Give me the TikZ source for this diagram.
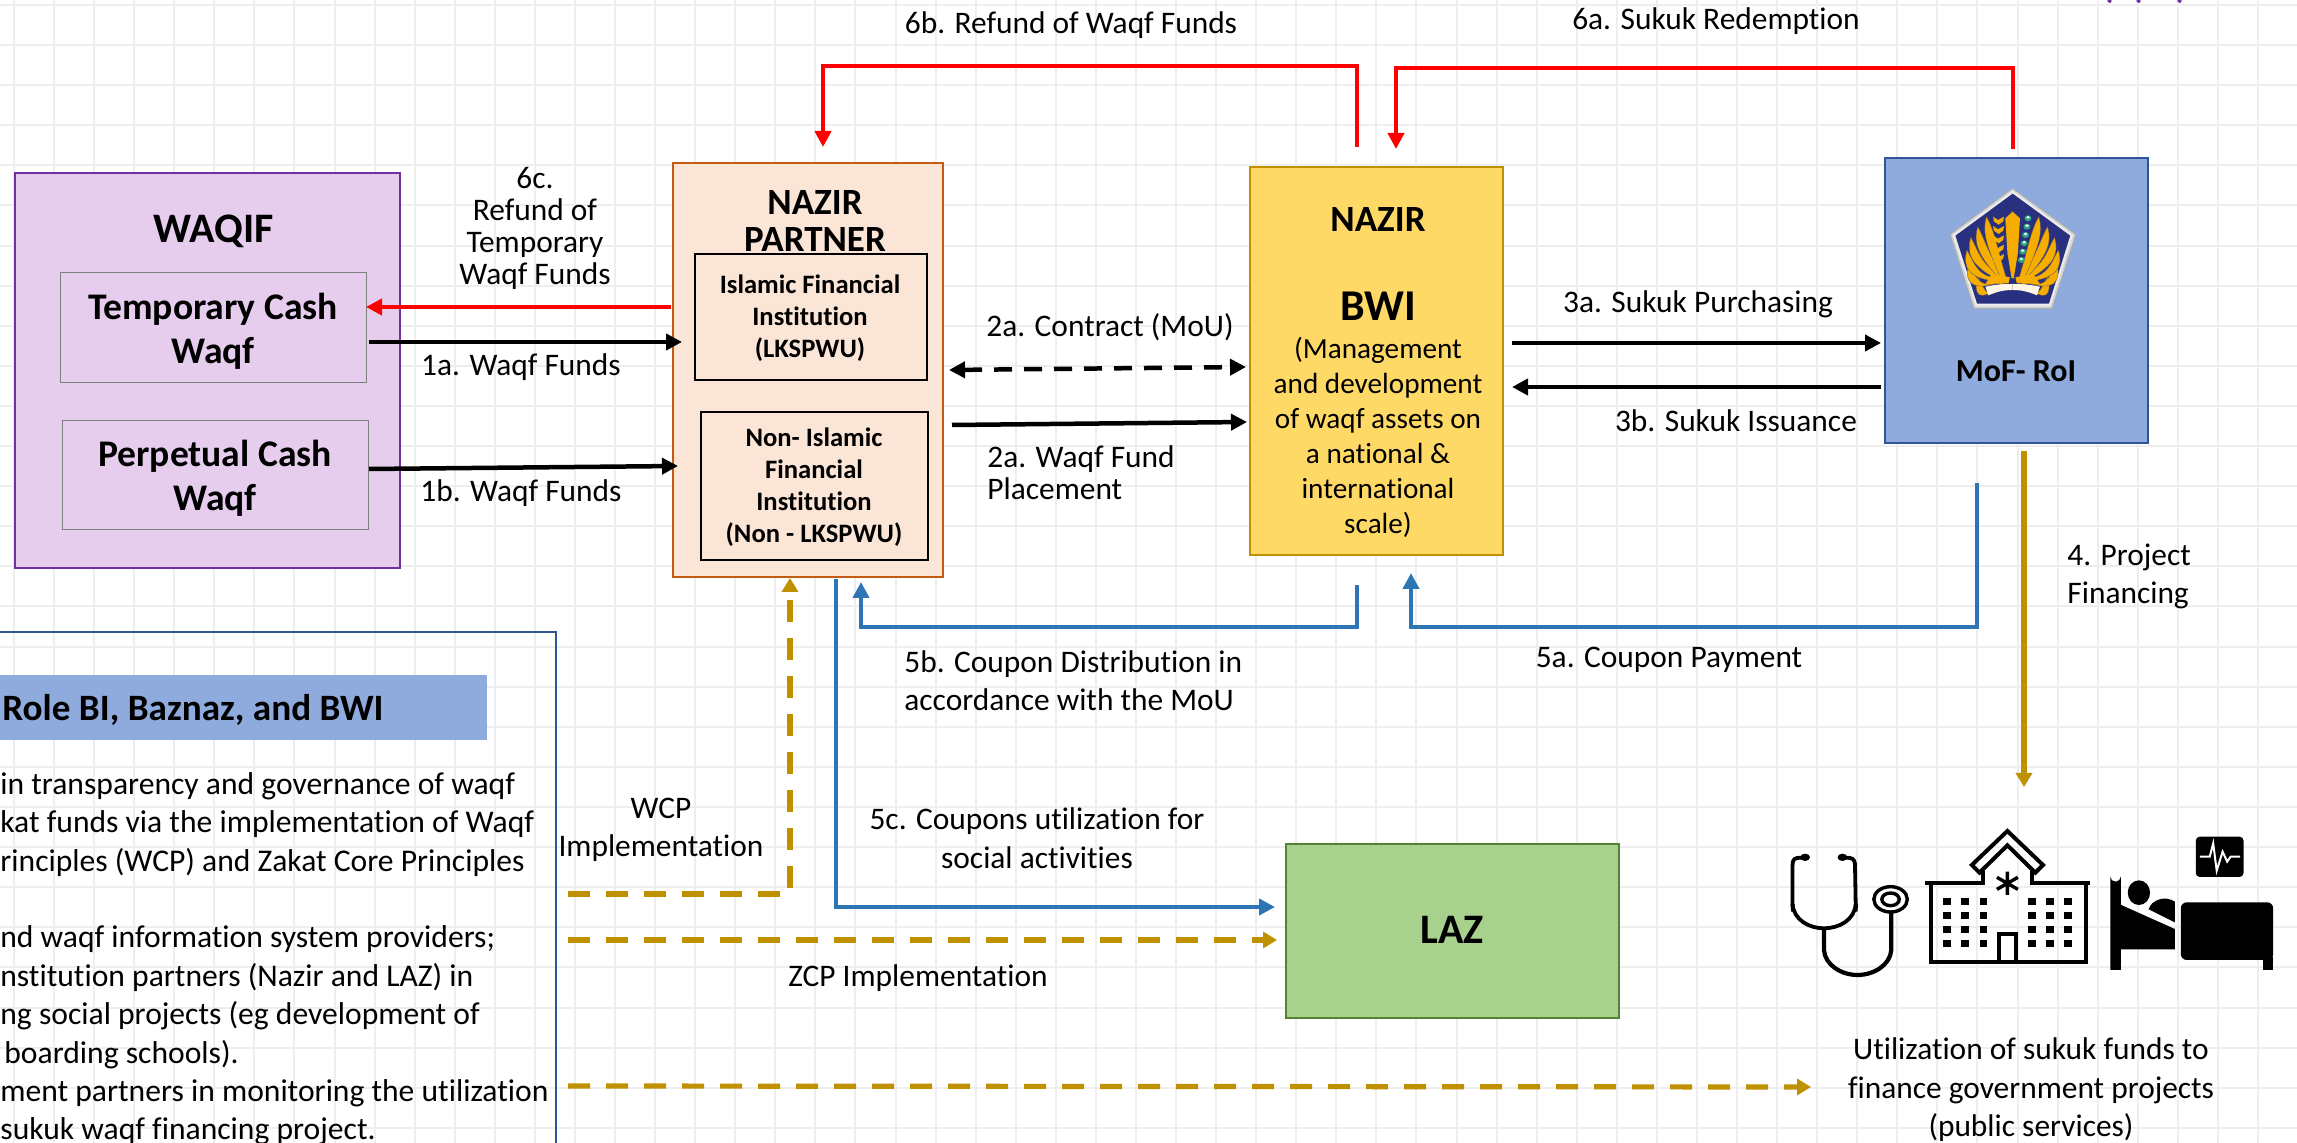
\documentclass[tikz,border=0pt]{standalone}
\usepackage{fontspec}
\setmainfont[Ligatures=NoCommon]{Carlito}
\usetikzlibrary{arrows.meta}
\definecolor{gridc}{HTML}{EEEEEE}
\definecolor{goldc}{HTML}{BF9000}
\definecolor{bluec}{HTML}{2E75B6}
\definecolor{navyc}{HTML}{2F5597}
\definecolor{periw}{HTML}{8FAADC}
\definecolor{wfill}{HTML}{E6CDEE}
\definecolor{wedge}{HTML}{7030A0}
\definecolor{pfill}{HTML}{FBE5D6}
\definecolor{pedge}{HTML}{C55A11}
\definecolor{bfill}{HTML}{FFD966}
\definecolor{lfill}{HTML}{A9D18E}
\definecolor{ledge}{HTML}{548235}
\definecolor{emblem}{HTML}{29307F}
\definecolor{wing}{HTML}{F5AE00}
\definecolor{cotton}{HTML}{2AA57F}
\tikzset{
  x=0.5pt,y=-0.5pt,
  box/.style={draw,anchor=north west,inner sep=0pt},
  lab/.style={inner sep=0pt,align=center,font=\fontsize{15.7}{16}\selectfont},
  labl/.style={inner sep=0pt,align=left,font=\fontsize{15.7}{19}\selectfont},
  head/.style={inner sep=0pt,align=center,font=\bfseries\fontsize{21}{23}\selectfont},
  flow/.style={line width=2.25pt,-{Triangle[width=8pt,length=8pt]}},
  redline/.style={flow,red},
  blueline/.style={flow,bluec},
  goldline/.style={line width=2.6pt,goldc,dash pattern=on 11pt off 8pt,-{Triangle[width=8pt,length=7pt]}},
}
\begin{document}
\begin{tikzpicture}
\path[use as bounding box,fill=white] (0,0) rectangle (2297,1143);
% grid
\foreach \i in {0,...,57}{\draw[gridc,line width=1pt] ({14+40.07*\i},0) -- ({14+40.07*\i},1143);}
\foreach \i in {0,...,28}{\draw[gridc,line width=1pt] (0,{5+40.1*\i}) -- (2297,{5+40.1*\i});}

% WAQIF
\node[box,fill=wfill,draw=wedge,line width=1.1pt,minimum width=192.5pt,minimum height=197.5pt] (waqif) at (14,172) {};
\node[head] (waqift) at (214,231) {WAQIF};
\node[box,draw=gray,line width=0.7pt,minimum width=153pt,minimum height=55pt] (temp) at (60,272) {};
\node[head,font=\bfseries\fontsize{18.8}{22}\selectfont] (tempt) at (213,331) {Temporary Cash\\Waqf};
\node[box,draw=gray,line width=0.7pt,minimum width=153pt,minimum height=54.5pt] (perp) at (62,420) {};
\node[head,font=\bfseries\fontsize{18.8}{22}\selectfont] (perpt) at (215,478) {Perpetual Cash\\Waqf};

% Nazir partner
\node[box,fill=pfill,draw=pedge,line width=1.1pt,minimum width=135pt,minimum height=207pt] (partner) at (672,162) {};
\node[head,font=\bfseries\fontsize{18.5}{18.5}\selectfont] (partnert) at (815,221) {NAZIR\\PARTNER};
\node[box,fill=pfill,line width=0.8pt,minimum width=116pt,minimum height=63pt] (islamic) at (694,253) {};
\node[head,font=\bfseries\fontsize{13.3}{16}\selectfont] (islamict) at (810,318) {Islamic Financial\\Institution\\(LKSPWU)};
\node[box,fill=pfill,line width=0.8pt,minimum width=113.5pt,minimum height=74pt] (non) at (700,411) {};
\node[head,font=\bfseries\fontsize{13.3}{16}\selectfont] (nont) at (814,487) {Non- Islamic\\Financial\\Institution\\(Non - LKSPWU)};

% BWI
\node[box,fill=bfill,draw=goldc,line width=0.8pt,minimum width=126.5pt,minimum height=194pt] (bwi) at (1249,166) {};
\node[head,font=\bfseries\fontsize{18.5}{18}\selectfont] (nazirt) at (1378,220) {NAZIR};
\node[head,font=\bfseries\fontsize{22}{23}\selectfont] (bwit) at (1378,306) {BWI};
\node[lab,font=\fontsize{14.6}{17.5}\selectfont] (bwid) at (1378,437) {(Management\\and development\\of waqf assets on\\a national \&\\international\\scale)};

% MoF
\node[box,fill=periw,draw=navyc,line width=0.9pt,minimum width=131.5pt,minimum height=142.5pt] (mof) at (1884,157) {};
\node[head,font=\bfseries\fontsize{16}{16}\selectfont] (moft) at (2016,371) {MoF- RoI};

% LAZ
\node[box,fill=lfill,draw=ledge,line width=0.8pt,minimum width=166.5pt,minimum height=87pt] (laz) at (1285,843) {};
\node[head] (lazt) at (1452,930) {LAZ};

% Left panel
\draw[navyc,line width=1pt] (0,632) -- (556,632) -- (556,1143);
\fill[periw] (0,675) rectangle (487,740);
\node[head,anchor=base west,font=\bfseries\fontsize{18.6}{20}\selectfont] (roleh) at (2,721) {Role BI, Baznaz, and BWI};
\node[inner sep=0pt,anchor=north west,align=left,font=\fontsize{15.8}{19.2}\selectfont] (roletxt) at (0,772) {in transparency and governance of waqf\\kat funds via the implementation of Waqf\\rinciples (WCP) and Zakat Core Principles\\[19.2pt]nd waqf information system providers;\\nstitution partners (Nazir and LAZ) in\\ng social projects (eg development of\\\hspace*{2pt}boarding schools).\\ment partners in monitoring the utilization\\sukuk waqf financing project.};

% Labels
\node[lab] (l6b) at (1071,25) {6b. Refund of Waqf Funds};
\node[lab] (l6a) at (1716,21) {6a. Sukuk Redemption};
\node[lab] (l6c) at (535,228) {6c.\\Refund of\\Temporary\\Waqf Funds};
\node[lab] (l1a) at (521,367) {1a. Waqf Funds};
\node[lab] (l1b) at (521,493) {1b. Waqf Funds};
\node[lab] (l2c) at (1110,327) {2a. Contract (MoU)};
\node[labl,anchor=west,font=\fontsize{15.7}{16}\selectfont] (l2p) at (987,473) {2a. Waqf Fund\\Placement};
\node[lab] (l3a) at (1698,304) {3a. Sukuk Purchasing};
\node[lab] (l3b) at (1736,421) {3b. Sukuk Issuance};
\node[labl,anchor=west] (l4) at (2067,576) {4. Project\\Financing};
\node[labl,anchor=west] (l5b) at (904,681) {5b. Coupon Distribution in\\accordance with the MoU};
\node[lab] (l5a) at (1669,660) {5a. Coupon Payment};
\node[lab,font=\fontsize{15.7}{19.5}\selectfont] (l5c) at (1037,838) {5c. Coupons utilization for\\social activities};
\node[lab,font=\fontsize{15.7}{19}\selectfont] (lwcp) at (661,830) {WCP\\Implementation};
\node[lab] (lzcp) at (918,978) {ZCP Implementation};
\node[lab,font=\fontsize{15.7}{19.25}\selectfont] (lutil) at (2031,1090) {Utilization of sukuk funds to\\finance government projects\\(public services)};

% connector ends
\coordinate (r6bs) at (1357,147); \coordinate (r6be) at (823,147);
\coordinate (r6as) at (2013,149); \coordinate (r6ae) at (1396,149);
\coordinate (r6cs) at (671,307);  \coordinate (r6ce) at (366,307);
\coordinate (k1as) at (369,342);  \coordinate (k1ae) at (682,342);
\coordinate (k1bs) at (369,469);  \coordinate (k1be) at (678,466);
\coordinate (k2cs) at (949,370);  \coordinate (k2ce) at (1246,367);
\coordinate (k2ps) at (952,425);  \coordinate (k2pe) at (1247,422);
\coordinate (k3as) at (1512,343); \coordinate (k3ae) at (1881,343);
\coordinate (k3bs) at (1881,387); \coordinate (k3be) at (1512,387);
\coordinate (b5as) at (1977,483); \coordinate (b5ae) at (1411,573);
\coordinate (b5bs) at (1357,585); \coordinate (b5be) at (861,582);
\coordinate (b5cs) at (836,579);  \coordinate (b5ce) at (1275,907);
\coordinate (g4s) at (2024,451);  \coordinate (g4e) at (2024,787);
\coordinate (gws) at (568,894);   \coordinate (gwe) at (790,578);
\coordinate (gzs) at (568,940);   \coordinate (gze) at (1277,940);
\coordinate (gus) at (568,1086);  \coordinate (gue) at (1811,1087);

% red
\draw[redline] (r6bs) -- (1357,66) -- (823,66) -- (r6be);
\draw[redline] (r6as) -- (2013,68) -- (1396,68) -- (r6ae);
\draw[redline,line width=2pt] (r6cs) -- (r6ce);
% black
\draw[flow] (k1as) -- (k1ae);
\draw[flow] (k1bs) -- (k1be);
\draw[flow,dash pattern=on 9pt off 6pt,{Triangle[width=8pt,length=8pt]}-{Triangle[width=8pt,length=8pt]}] (k2cs) -- (k2ce);
\draw[flow] (k2ps) -- (k2pe);
\draw[flow] (k3as) -- (k3ae);
\draw[flow] (k3bs) -- (k3be);
% blue
\draw[blueline] (b5as) -- (1977,627) -- (1411,627) -- (b5ae);
\draw[blueline] (b5bs) -- (1357,627) -- (861,627) -- (b5be);
\draw[blueline] (b5cs) -- (836,907) -- (b5ce);
% gold
\draw[line width=2.6pt,goldc,-{Triangle[width=8pt,length=7pt]}] (g4s) -- (g4e);
\draw[goldline] (gws) -- (790,894) -- (gwe);
\draw[goldline] (gzs) -- (gze);
\draw[goldline] (gus) -- (gue);

% purple fragments at the top edge
\foreach \px in {2108,2137,2178}{\draw[wedge,line width=1.5pt] (\px,0) -- (\px+3,2);}

% emblem
\begin{scope}[shift={(1750,0)},xscale=1/2.867,yscale=1/3]
\fill[gray!35,draw=gray!70,line width=0.3pt] (753,565) -- (934,703) -- (866,926) -- (642,926) -- (574,703) -- cycle;
\fill[white!85!gray] (753,572) -- (926,705) -- (861,919) -- (647,919) -- (581,705) -- cycle;
\fill[emblem] (753,581) -- (918,707) -- (857,911) -- (651,911) -- (589,707) -- cycle;
\foreach \s in {1,-1}{
 \begin{scope}[shift={(753,0)},xscale=\s]
 \foreach \tx/\ty in {-100/830,-126/790,-131/750,-120/712,-100/680,-75/650}{
  \fill[wing,draw=emblem!70!wing,line width=0.15pt] (-30,845) .. controls (\tx+2,\ty+90) and (\tx-14,\ty+50) .. (\tx,\ty) .. controls (\tx+22,\ty+40) and (\tx+30,\ty+90) .. (-18,835) -- cycle;}
 \fill[wing] (-60,822) -- (-8,832) -- (-12,850) -- (-78,852) -- cycle;
 \fill[white!90!wing] (-78,860) .. controls (-40,852) and (-20,852) .. (0,852) -- (0,870) .. controls (-25,870) and (-45,875) .. (-70,886) -- cycle;
 \end{scope}}
\fill[wing] (732,655) -- (753,635) -- (774,655) -- (768,760) -- (756,835) -- (750,835) -- (738,760) -- cycle;
\foreach \yy in {660,688,716,744,772}{
 \fill[wing] (711,\yy) -- (697,\yy-10) -- (699,\yy+4) -- (713,\yy+14) -- (726,\yy+4) -- (728,\yy-10) -- cycle;}
\foreach \yy/\xx in {655/797,680/794,705/790,730/786,755/782,780/778}{
 \fill[cotton] (\xx,\yy) circle[x radius=10,y radius=9];
 \fill[white] (\xx,\yy-3) circle[x radius=5,y radius=4];}
\end{scope}

% icons
\begin{scope}[shift={(1750,780)},xscale=1/2.867,yscale=1/3]
% stethoscope
\draw[line width=1.9pt,line cap=round] (158,232) -- (135,234) .. controls (124,236) and (122,245) .. (122,255) -- (122,372) .. controls (125,420) and (170,445) .. (212,445) .. controls (255,445) and (300,420) .. (303,372) -- (301,255) .. controls (301,245) and (298,236) .. (287,234) -- (265,232);
\fill (158,232) ellipse[x radius=14,y radius=11];
\fill (265,232) ellipse[x radius=14,y radius=11];
\fill (116,372) -- (128,372) -- (128,395) -- (118,395) -- cycle;
\fill (298,372) -- (310,372) -- (308,395) -- (298,395) -- cycle;
\draw[line width=2.1pt] (212,445) -- (212,510) .. controls (215,555) and (262,585) .. (308,585) .. controls (355,585) and (402,555) .. (405,510) -- (405,398);
\draw[line width=1.7pt] (403,358) ellipse[x radius=48,y radius=38];
\draw[line width=1.7pt] (403,358) ellipse[x radius=25,y radius=19];
% hospital
\draw[line width=2pt] (503,310) -- (668,310) -- (668,272);
\draw[line width=2pt] (975,310) -- (808,310) -- (808,272);
\draw[line width=2pt] (518,310) -- (518,547) -- (962,547) -- (962,310);
\draw[line width=2pt,line join=miter] (738,153) -- (840,255) -- (818,278) -- (738,196) -- (658,278) -- (636,255) -- cycle;
\draw[line width=2pt] (715,547) -- (715,462) -- (762,462) -- (762,547);
\draw[line width=1.7pt] (738,275) -- (738,345) (708,292) -- (768,328) (708,328) -- (768,292);
\foreach \wx in {565,617,669,808,860,911}{\foreach \wy in {365,407,449,491}{
 \fill (\wx-11,\wy-11) rectangle (\wx+11,\wy+11);}}
% bed
\fill (1033,570) -- (1033,290) arc[start angle=180,end angle=0,x radius=15,y radius=15] -- (1063,570) -- cycle;
\fill (1060,373) -- (1218,447) -- (1218,508) -- (1060,508) -- cycle;
\fill (1115,338) ellipse[x radius=32,y radius=37];
\fill (1143,388) .. controls (1150,360) and (1190,345) .. (1218,365) -- (1218,427) -- cycle;
\fill[rounded corners=3pt] (1235,367) -- (1500,367) -- (1500,540) -- (1235,540) -- cycle;
\fill (1470,530) rectangle (1500,570);
\fill[rounded corners=2pt] (1278,170) rectangle (1415,291);
\draw[white,line width=1pt] (1290,230) -- (1318,230) -- (1328,190) -- (1338,272) -- (1355,215) -- (1368,245) -- (1378,230) -- (1405,230);
\end{scope}
\end{tikzpicture}
\end{document}
